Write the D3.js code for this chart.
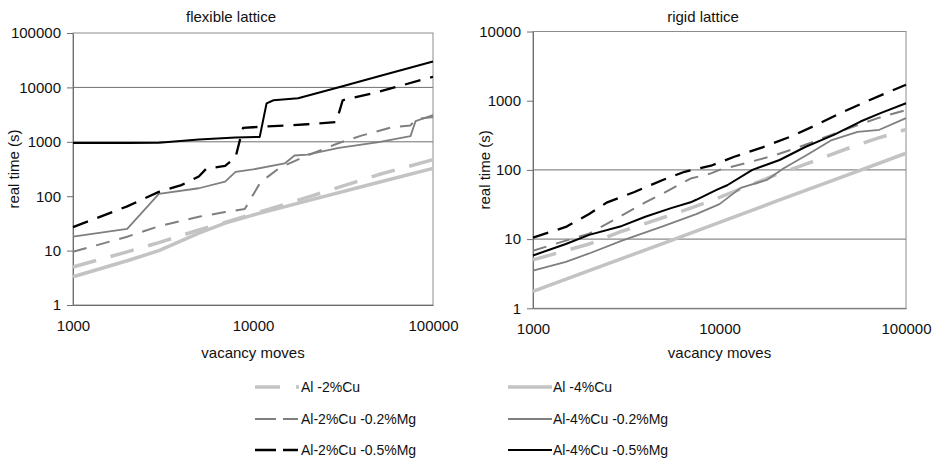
<!DOCTYPE html>
<html>
<head>
<meta charset="utf-8">
<script src="https://cdn.jsdelivr.net/npm/d3@7"></script>
<style>
  body { margin: 0; background: #fff; }
  text { font-family: "Liberation Sans", Arial, sans-serif; fill: #111; }
</style>
</head>
<body>
<div id="chart"></div>
<script>
// values: [vacancy moves, real time (s)]
const flexAl2Cu = [[1000,5],[2000,9.5],[3000,14],[5000,24],[7000,33],[10000,47],[20000,95],[50000,250],[100000,470]];
const flexAl4Cu = [[1000,3.3],[2000,6.5],[3000,10],[5000,21],[7000,32],[10000,45],[20000,82],[50000,180],[100000,325]];
const flexAl2Cu02Mg = [[1000,9.5],[2000,18],[3000,28],[5000,42],[7000,51],[9000,58],[11000,180],[14000,330],[17500,460],[20000,560],[30000,950],[40000,1300],[60000,1870],[75000,2000],[80000,2600],[100000,2850]];
const flexAl4Cu02Mg = [[1000,18],[2000,25],[3000,110],[5000,140],[7000,185],[8000,280],[10000,310],[15000,400],[17000,560],[20000,580],[30000,770],[50000,990],[75000,1270],[80000,2400],[100000,3100]];
const flexAl2Cu05Mg = [[1000,27],[2000,65],[3000,120],[4000,160],[5000,230],[5500,320],[7000,360],[8000,520],[8800,1800],[10000,1850],[20000,2100],[29000,2300],[31500,5800],[50000,8300],[100000,15700]];
const flexAl4Cu05Mg = [[1000,950],[2000,950],[3000,960],[5000,1100],[8000,1200],[10900,1230],[11900,5100],[13000,5800],[17800,6300],[30000,10100],[50000,16000],[100000,30000]];

const rigidAl2Cu = [[1000,5],[2000,8.5],[3000,13],[5000,20.5],[7000,28],[10000,40],[15000,62],[20000,85],[30000,125],[50000,210],[70000,285],[100000,385]];
const rigidAl4Cu = [[1000,1.75],[2000,3.5],[5000,8.7],[10000,17.5],[20000,35],[50000,87],[100000,174]];
const rigidAl2Cu02Mg = [[1000,6.8],[1500,9.5],[2000,12],[3000,22],[4000,34],[5000,46],[7000,75],[9000,89],[10000,100],[15000,133],[20000,164],[27000,216],[37500,302],[52000,421],[70000,556],[100000,734]];
const rigidAl4Cu02Mg = [[1000,3.5],[1500,4.7],[2000,6.2],[3000,9.5],[5000,15.4],[7500,23],[10000,32],[13000,55],[18000,72],[22000,105],[30000,170],[40000,270],[55000,355],[72000,380],[100000,560]];
const rigidAl2Cu05Mg = [[1000,10.5],[1500,15],[2000,23],[2500,34],[3500,48],[5000,72],[6500,94],[9000,115],[12000,155],[17000,212],[24000,302],[33000,446],[46000,690],[64000,1025],[100000,1700]];
const rigidAl4Cu05Mg = [[1000,5.8],[1500,8.5],[2000,11.5],[3000,15.5],[4000,21],[5500,28],[7000,34],[7500,37],[9700,52],[11000,60],[15000,100],[21000,139],[29000,216],[41000,320],[57000,500],[73000,660],[100000,920]];

const seriesNames = ['Al -2%Cu','Al -4%Cu','Al-2%Cu -0.2%Mg','Al-4%Cu -0.2%Mg','Al-2%Cu -0.5%Mg','Al-4%Cu -0.5%Mg'];
const xTicks = [1000, 10000, 100000];
const flexYTicks = [1, 10, 100, 1000, 10000, 100000];
const rigidYTicks = [1, 10, 100, 1000, 10000];

// line styles per series (same order as names)
const styles = [
  {color: '#c3c3c3', width: 3.5, dash: '24,15', legendDash: '25,16,3'},
  {color: '#c3c3c3', width: 3.5, dash: null, legendDash: null},
  {color: '#7f7f7f', width: 2, dash: '14,10', legendDash: '21,7,15'},
  {color: '#7f7f7f', width: 1.8, dash: null, legendDash: null},
  {color: '#000', width: 2.3, dash: '16,10', legendDash: '21,7,15'},
  {color: '#000', width: 2, dash: null, legendDash: null}
];

const svg = d3.select('#chart').append('svg')
  .attr('width', 933)
  .attr('height', 458);

function drawPanel(opts) {
  const x = d3.scaleLog().domain([1000, 100000]).range([opts.left, opts.right]);
  const y = d3.scaleLog().domain([1, opts.yMax]).range([opts.bottom, opts.top]);
  const g = svg.append('g');

  // gridlines
  g.selectAll('.grid').data(opts.grid).enter().append('line')
    .attr('x1', opts.left).attr('x2', opts.right)
    .attr('y1', d => y(d)).attr('y2', d => y(d))
    .attr('stroke', '#6e6e6e').attr('stroke-width', 1);

  // plot frame
  g.append('rect')
    .attr('x', opts.left).attr('y', opts.top)
    .attr('width', opts.right - opts.left).attr('height', opts.bottom - opts.top)
    .attr('fill', 'none').attr('stroke', '#8c8c8c').attr('stroke-width', 1);

  // Y axis
  const yAxis = g.append('g')
    .attr('transform', `translate(${opts.left},0)`)
    .call(d3.axisLeft(y).tickValues(opts.yTicks).tickFormat(d3.format('d')).tickSize(6).tickPadding(6).tickSizeOuter(0));
  yAxis.select('.domain').attr('stroke', '#6e6e6e');
  yAxis.selectAll('.tick line').attr('stroke', '#6e6e6e');
  yAxis.selectAll('text').attr('font-size', 15).attr('font-family', null);

  // X axis
  const xAxis = g.append('g')
    .attr('transform', `translate(0,${opts.bottom})`)
    .call(d3.axisBottom(x).tickValues(xTicks).tickFormat(d3.format('d')).tickSize(0).tickPadding(15));
  xAxis.select('.domain').attr('stroke', '#6e6e6e');
  xAxis.selectAll('text').attr('font-size', 15).attr('font-family', null);

  // lines
  const line = d3.line().x(d => x(d[0])).y(d => y(d[1]));
  opts.series.forEach((s, i) => {
    const st = styles[i];
    g.append('path')
      .datum(s)
      .attr('d', line)
      .attr('fill', 'none')
      .attr('stroke', st.color)
      .attr('stroke-width', st.width)
      .attr('stroke-dasharray', st.dash)
      .attr('stroke-linejoin', 'round');
  });

  // titles
  g.append('text')
    .attr('x', opts.titleX).attr('y', 22)
    .attr('text-anchor', 'middle').attr('font-size', 15)
    .text(opts.title);
  g.append('text')
    .attr('x', (opts.left + opts.right) / 2).attr('y', 358)
    .attr('text-anchor', 'middle').attr('font-size', 15)
    .text('vacancy moves');
  g.append('text')
    .attr('transform', `translate(${opts.yLabelX},${(opts.top + opts.bottom) / 2}) rotate(-90)`)
    .attr('text-anchor', 'middle').attr('font-size', 15)
    .text('real time (s)');
}

drawPanel({
  left: 73, right: 433, top: 33, bottom: 305, yMax: 100000,
  yTicks: flexYTicks, grid: [1000, 10000],
  series: [flexAl2Cu, flexAl4Cu, flexAl2Cu02Mg, flexAl4Cu02Mg, flexAl2Cu05Mg, flexAl4Cu05Mg],
  title: 'flexible lattice', titleX: 231, yLabelX: 19
});

drawPanel({
  left: 533, right: 906, top: 31.5, bottom: 308.3, yMax: 10000,
  yTicks: rigidYTicks, grid: [10, 100],
  series: [rigidAl2Cu, rigidAl4Cu, rigidAl2Cu02Mg, rigidAl4Cu02Mg, rigidAl2Cu05Mg, rigidAl4Cu05Mg],
  title: 'rigid lattice', titleX: 703, yLabelX: 490
});

// legend: two columns, three rows
const legendRows = [387, 419, 450];
const legendCols = [{x0: 255, x1: 300}, {x0: 508, x1: 552}];
seriesNames.forEach((name, i) => {
  const col = legendCols[i % 2];
  const yy = legendRows[Math.floor(i / 2)];
  const st = styles[i];
  const row = svg.append('g');
  row.append('line')
    .attr('x1', col.x0).attr('x2', col.x1)
    .attr('y1', yy).attr('y2', yy)
    .attr('stroke', st.color)
    .attr('stroke-width', st.width)
    .attr('stroke-dasharray', st.legendDash);
  row.append('text')
    .attr('x', col.x1 + 1).attr('y', yy + 5)
    .attr('font-size', 14)
    .text(name);
});
</script>
</body>
</html>
